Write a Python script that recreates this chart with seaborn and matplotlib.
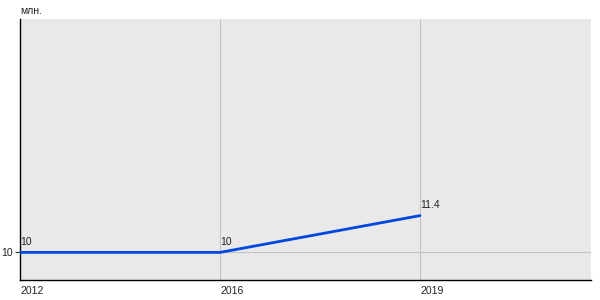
import matplotlib
matplotlib.use("Agg")
import matplotlib.pyplot as plt
import seaborn as sns
import pandas as pd

years = ["2012", "2016", "2019"]
values = [10, 10, 11.4]
value_labels = ["10", "10", "11.4"]
y_ticks = [10]
unit = "млн."

sns.set_theme(style="white")
plt.rcParams["font.family"] = ["Liberation Sans", "DejaVu Sans"]

df = pd.DataFrame({"pos": range(len(years)), "value": values})

fig = plt.figure(figsize=(6, 3), dpi=100)
ax = fig.add_axes([20/600, 1 - 280/300, (591 - 20)/600, (280 - 19)/300])
ax.set_facecolor("#e9e9e9")

sns.lineplot(data=df, x="pos", y="value", ax=ax, color="#0047e0", linewidth=2, zorder=3)

ax.set_xlim(0, 2.855)
ax.set_ylim(8.95, 18.88)
ax.set_xticks(range(len(years)))
ax.set_xticklabels(years, ha="left", fontsize=7.5, color="#222222")
ax.set_yticks(y_ticks)
ax.set_yticklabels([str(t) for t in y_ticks], fontsize=7.5, color="#222222")
ax.grid(True, color="#c4c4c4", linewidth=0.8)
ax.set_axisbelow(True)
ax.set_xlabel("")
ax.set_ylabel("")

for s in ["top", "right"]:
    ax.spines[s].set_visible(False)
for s in ["left", "bottom"]:
    ax.spines[s].set_color("black")
    ax.spines[s].set_linewidth(1)

ax.tick_params(axis="x", length=0, pad=4)
ax.tick_params(axis="y", left=True, length=3.5, width=0.8, color="#333333", pad=1.5)

for i, (v, lab) in enumerate(zip(values, value_labels)):
    ax.annotate(lab, (i, v), xytext=(0, 4), textcoords="offset points",
                ha="left", va="bottom", fontsize=7.5, color="#222222")

fig.text(20/600, 1 - 11/300, unit, ha="left", va="center", fontsize=7.5, color="#222222")

fig.savefig("out.png", dpi=100, facecolor="white")
